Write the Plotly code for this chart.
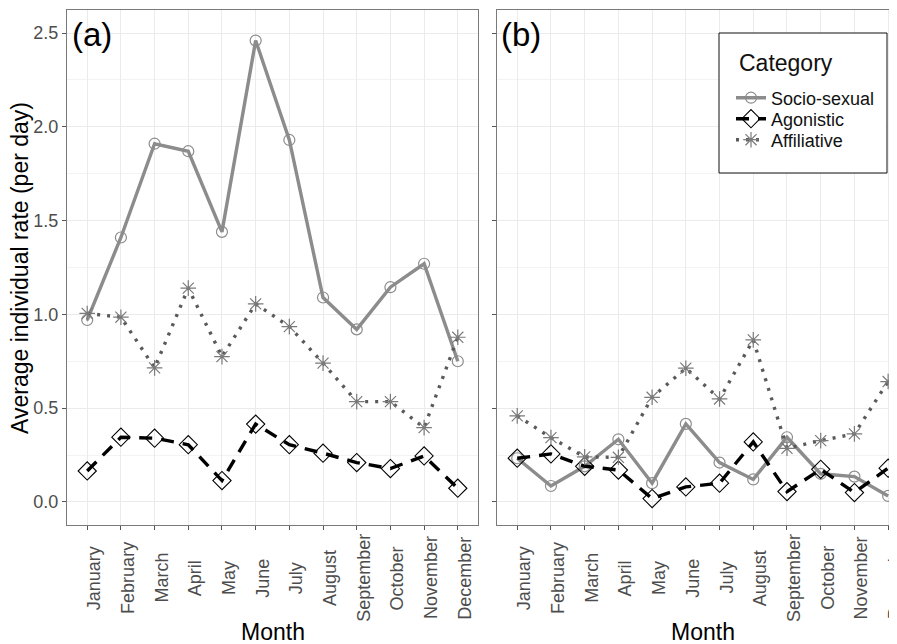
import plotly.graph_objects as go

months = ["January", "February", "March", "April", "May", "June", "July",
          "August", "September", "October", "November", "December"]

# Panel (a)
a_socio = [0.97, 1.41, 1.91, 1.87, 1.44, 2.46, 1.93, 1.09, 0.92, 1.145, 1.27, 0.75]
a_agon = [0.165, 0.345, 0.34, 0.305, 0.114, 0.415, 0.305, 0.26, 0.21, 0.178, 0.245, 0.073]
a_affil = [1.005, 0.985, 0.715, 1.14, 0.775, 1.056, 0.935, 0.74, 0.535, 0.535, 0.396, 0.878]

# Panel (b)
b_socio = [0.233, 0.085, 0.19, 0.334, 0.10, 0.416, 0.21, 0.12, 0.345, 0.15, 0.135, 0.032]
b_agon = [0.233, 0.256, 0.19, 0.17, 0.018, 0.08, 0.10, 0.32, 0.055, 0.174, 0.05, 0.18]
b_affil = [0.459, 0.343, 0.24, 0.238, 0.558, 0.713, 0.549, 0.864, 0.286, 0.327, 0.363, 0.642]

y_ticks = [0.0, 0.5, 1.0, 1.5, 2.0, 2.5]
y_tick_labels = ["0.0", "0.5", "1.0", "1.5", "2.0", "2.5"]

SOCIO_C = "#8c8c8c"
AGON_C = "#000000"
AFFIL_LINE_C = "#5a5a5a"
AFFIL_MK_C = "#7a7a7a"
FONT = "Liberation Sans, Arial, sans-serif"

fig = go.Figure()

def add_panel(xa, ya, socio, agon, affil, show):
    xs = list(range(len(months)))
    fig.add_trace(go.Scatter(
        x=xs, y=socio, mode="lines+markers", name="Socio-sexual",
        line=dict(color=SOCIO_C, width=3.4),
        marker=dict(symbol="circle-open", size=11, color=SOCIO_C, line=dict(width=1.2)),
        xaxis=xa, yaxis=ya, showlegend=show, legend="legend"))
    fig.add_trace(go.Scatter(
        x=xs, y=agon, mode="lines+markers", name="Agonistic",
        line=dict(color=AGON_C, width=3.4, dash="13px,9px"),
        marker=dict(symbol="diamond-open", size=14, color=AGON_C, line=dict(width=1.1)),
        xaxis=xa, yaxis=ya, showlegend=show, legend="legend2"))
    fig.add_trace(go.Scatter(
        x=xs, y=affil, mode="lines+markers", name="Affiliative",
        line=dict(color=AFFIL_LINE_C, width=3.4, dash="3px,7px"),
        marker=dict(symbol="asterisk-open", size=13, color=AFFIL_MK_C, line=dict(width=1.2, color=AFFIL_MK_C)),
        xaxis=xa, yaxis=ya, showlegend=show, legend="legend3"))

add_panel("x", "y", a_socio, a_agon, a_affil, True)
add_panel("x2", "y2", b_socio, b_agon, b_affil, False)

# Page has an 8px body margin; right panel continues past the window edge
W, H = 897, 636
L, R, T, B = 59, 0, 2, 119
pw = W - L - R   # 838
ph = H - T - B   # 515

def px_x(p):  # page pixel -> paper x
    return (p - 67) / pw

def px_y(p):  # page pixel -> paper y
    return (525 - p) / ph

grid_c = "#ebebeb"
border_c = "#7a7a7a"
tick_font = dict(family=FONT, size=18, color="#4d4d4d")

xcommon = dict(
    tickmode="array", tickvals=list(range(12)), ticktext=months, showticklabels=False,
    showgrid=True, gridcolor=grid_c, gridwidth=1,
    showline=True, mirror=True, linecolor=border_c, linewidth=1.2,
    ticks="outside", ticklen=4, tickcolor="#555",
    zeroline=False,
)
ycommon = dict(
    range=[-0.123, 2.623], tickmode="array", tickvals=y_ticks, ticktext=y_tick_labels,
    showgrid=True, gridcolor=grid_c, gridwidth=1,
    minor=dict(tickmode="array", tickvals=[0.25, 0.75, 1.25, 1.75, 2.25], showgrid=True,
               gridcolor="#f3f3f3", gridwidth=0.6, ticks=""),
    showline=True, mirror=True, linecolor=border_c, linewidth=1.2,
    ticks="outside", ticklen=4, tickcolor="#555", tickfont=tick_font,
    zeroline=False,
)

def leg(py):
    return dict(x=px_x(731), y=px_y(py), xanchor="left", yanchor="middle",
                bgcolor="rgba(0,0,0,0)", borderwidth=0,
                font=dict(family=FONT, size=18, color="#111"), itemwidth=30)

fig.update_layout(
    width=W, height=H,
    margin=dict(l=L, r=R, t=T, b=B, pad=0),
    paper_bgcolor="white", plot_bgcolor="white",
    xaxis=dict(domain=[0, px_x(478)], range=[-0.6, 11.6], **xcommon),
    xaxis2=dict(domain=[px_x(497), 1], range=[-0.6, 11.5], anchor="y2", **xcommon),
    yaxis=dict(domain=[0, 1], anchor="x", **ycommon),
    yaxis2=dict(domain=[0, 1], anchor="x2", matches="y", showticklabels=False, **ycommon),
    legend=leg(98), legend2=leg(119), legend3=leg(140),
    showlegend=True,
)

# legend frame and title
fig.add_shape(type="rect", xref="paper", yref="paper",
              x0=px_x(719), x1=px_x(887), y0=px_y(173), y1=px_y(33),
              line=dict(color="#111", width=1), fillcolor="white", layer="above")
fig.add_annotation(text="Category", xref="paper", yref="paper", x=px_x(737), y=px_y(63),
                   xanchor="left", yanchor="middle", showarrow=False,
                   font=dict(family=FONT, size=23, color="#111"))

ann_font = dict(family=FONT, color="black")
fig.add_annotation(text="(a)", xref="paper", yref="paper", x=px_x(70), y=px_y(35),
                   xanchor="left", yanchor="middle", showarrow=False, font=dict(size=33, **ann_font))
fig.add_annotation(text="(b)", xref="paper", yref="paper", x=px_x(499), y=px_y(35),
                   xanchor="left", yanchor="middle", showarrow=False, font=dict(size=33, **ann_font))

# month tick labels, centred vertically like the reference
for xr in ["x", "x2"]:
    for i, m in enumerate(months):
        fig.add_annotation(text=m, xref=xr, yref="paper", x=i, y=px_y(578),
                           xanchor="center", yanchor="middle", textangle=-90, xshift=7,
                           showarrow=False, font=tick_font)

for cx in [(67 + 478) / 2, (497 + 908) / 2]:
    fig.add_annotation(text="Month", xref="paper", yref="paper", x=px_x(cx), y=px_y(632),
                       xanchor="center", yanchor="middle", showarrow=False, font=dict(size=23, **ann_font))
fig.add_annotation(text="Average individual rate (per day)", xref="paper", yref="paper",
                   x=px_x(20), y=px_y(268), xanchor="center", yanchor="middle", textangle=-90,
                   showarrow=False, font=dict(size=23, **ann_font))

fig.write_html("out.html")
